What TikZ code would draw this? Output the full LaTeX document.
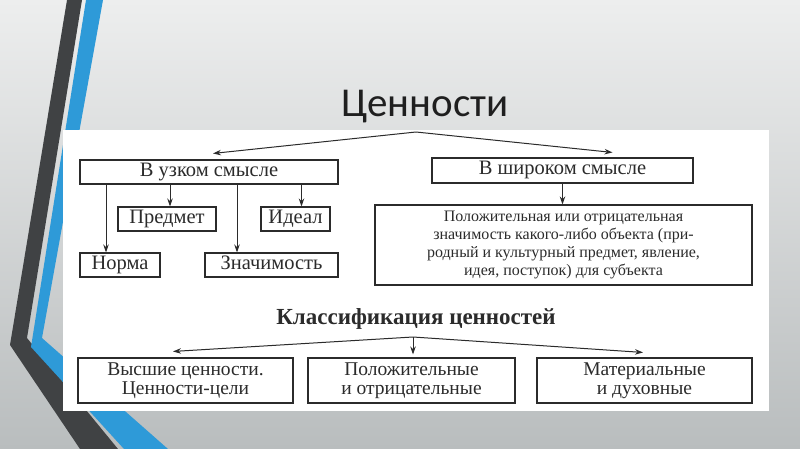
\documentclass[tikz,border=0pt]{standalone}
\usepackage{fontspec}
\setmainfont{Liberation Serif}
\newfontfamily\titlefont{Carlito}
\usetikzlibrary{arrows.meta,calc}
\definecolor{ink}{HTML}{2B2B2B}
\definecolor{darkband}{HTML}{404244}
\definecolor{blueband}{HTML}{2E9AD8}
\definecolor{bgtop}{HTML}{EDEEEE}
\definecolor{bgbot}{HTML}{B9BDBE}
\begin{document}
\begin{tikzpicture}[x=1pt,y=-1pt,
  lbl/.style={draw=ink,line width=1.1pt,inner sep=0pt,align=center,text=ink,
     font=\fontsize{20.5}{22}\selectfont},
  lblone/.style={lbl,text height=13.5pt,text depth=4.5pt},
  arr/.style={draw=ink,line width=1pt,-{Stealth[length=8pt,width=5.5pt]}}]
\useasboundingbox (0,0) rectangle (800,449);
\shade[top color=bgtop,bottom color=bgbot] (0,0) rectangle (800,449);
% decorative bands
\fill[darkband] (67,0) -- (82,0) -- (27,338) -- (118,449) -- (80,449) -- (10,345) -- cycle;
\fill[blueband] (86,0) -- (103,0) -- (42,338) -- (168,449) -- (124,449) -- (31,347) -- cycle;
% title
\node[font=\titlefont\fontsize{41}{43}\selectfont,text=black!88] (title) at (425,107) {Ценности};
% white panel
\fill[white] (63,130) rectangle (769,411);
% upper part
\coordinate (apex) at (416,132);
\node[lblone,minimum width=258pt,minimum height=24pt] (uz) at (209,172) {В узком смысле};
\node[lblone,minimum width=98pt,minimum height=24pt] (pred) at (167,219) {Предмет};
\node[lblone,minimum width=69pt,minimum height=24pt] (ideal) at (295.5,219) {Идеал};
\node[lblone,minimum width=80pt,minimum height=24pt] (norma) at (120,265) {Норма};
\node[lblone,minimum width=133pt,minimum height=24pt] (znach) at (271.5,265) {Значимость};
\node[lblone,minimum width=261pt,minimum height=25pt] (shir) at (562.5,170.5) {В широком смысле};
\node[lbl,minimum width=377pt,minimum height=80pt,font=\fontsize{16}{18.3}\selectfont] (big) at (563.5,245)
  {Положительная или отрицательная\\значимость какого-либо объекта (при-\\родный и культурный предмет, явление,\\идея, поступок) для субъекта};
\draw[arr] (apex) -- ($(uz.north)+(4,-6)$);
\draw[arr] (apex) -- ($(shir.north)+(50,-5)$);
\draw[arr] ([xshift=-103pt]uz.south) -- ([xshift=-103pt]uz.south |- norma.north);
\draw[arr] ([xshift=3pt]pred.north |- uz.south) -- ([xshift=3pt]pred.north);
\draw[arr] ([xshift=28pt]uz.south) -- ([xshift=28pt]uz.south |- znach.north);
\draw[arr] ([xshift=6pt]ideal.north |- uz.south) -- ([xshift=6pt]ideal.north);
\draw[arr] (shir.south) -- (shir.south |- big.north);
% classification
\node[font=\bfseries\fontsize{23}{25}\selectfont,text=ink] (klass) at (416,319) {Классификация ценностей};
\coordinate (apex2) at (413,337);
\node[lbl,minimum width=215pt,minimum height=45pt,font=\fontsize{19.5}{18.5}\selectfont] (b1) at (185.5,380.5) {Высшие ценности.\\Ценности-цели};
\node[lbl,minimum width=207pt,minimum height=45pt,font=\fontsize{19.5}{18.5}\selectfont] (b2) at (411.5,380.5) {Положительные\\и отрицательные};
\node[lbl,minimum width=215pt,minimum height=45pt,font=\fontsize{19.5}{18.5}\selectfont] (b3) at (644.5,380.5) {Материальные\\и духовные};
\draw[arr] (apex2) -- ($(b1.north)+(-12.5,-6)$);
\draw[arr] (apex2) -- ($(b2.north)+(1.5,-3)$);
\draw[arr] (apex2) -- ($(b3.north)+(-1.5,-5)$);
\end{tikzpicture}
\end{document}
